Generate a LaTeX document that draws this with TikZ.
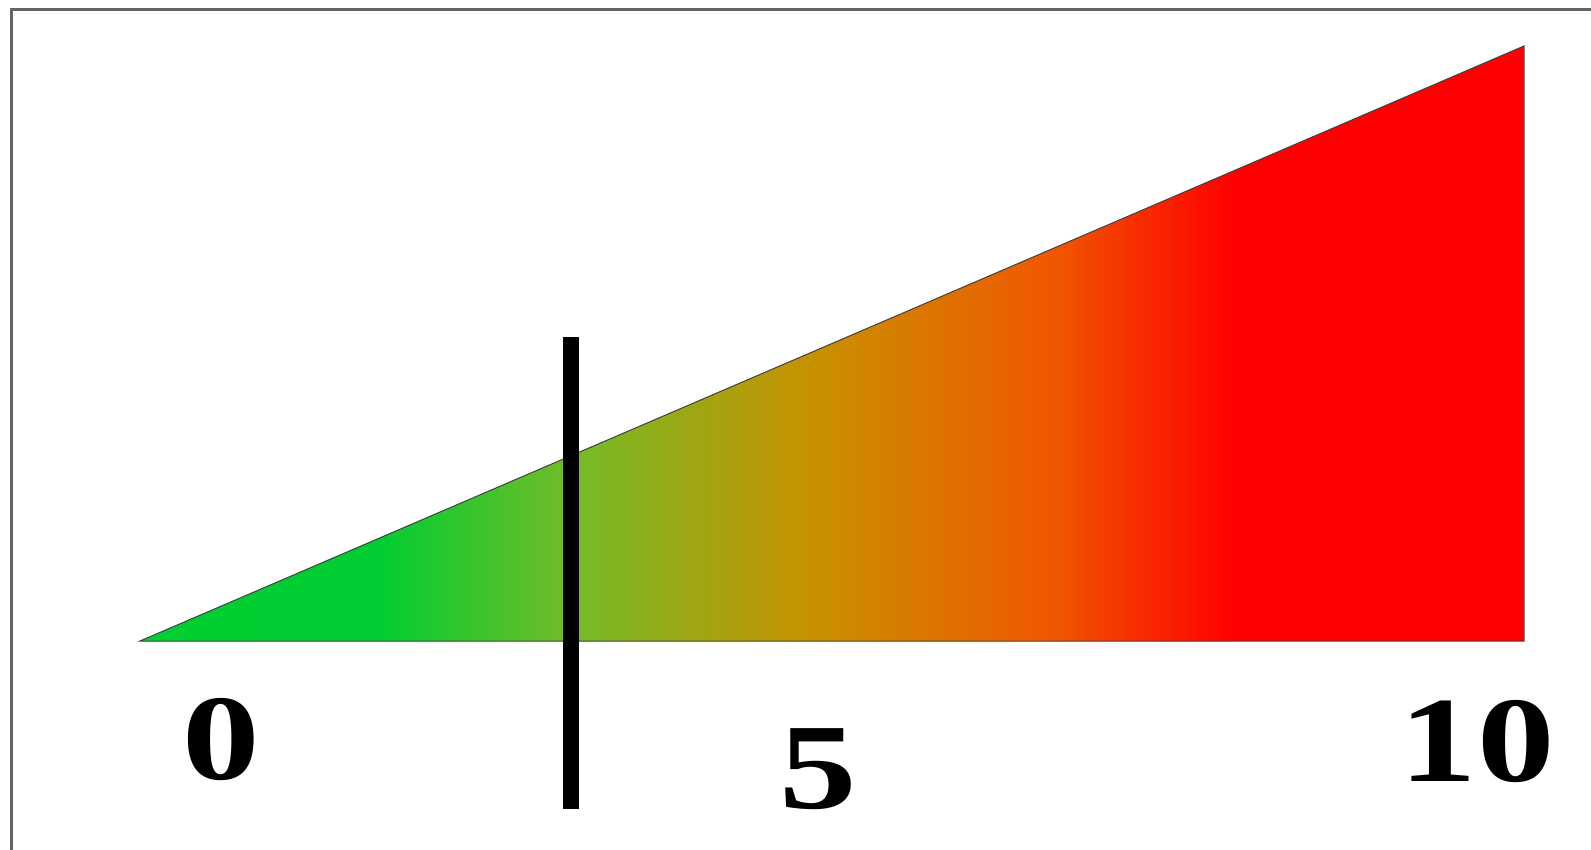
\documentclass[tikz,border=0pt]{standalone}
\usepackage{fontspec}
\setmainfont{Liberation Serif}
\definecolor{gA}{RGB}{0,208,50}
\definecolor{gB}{RGB}{0,205,50}
\definecolor{gC}{RGB}{115,188,40}
\definecolor{gD}{RGB}{200,145,0}
\definecolor{gE}{RGB}{240,88,0}
\definecolor{gF}{RGB}{255,0,0}
\definecolor{frame}{RGB}{100,100,100}
\pgfdeclarehorizontalshading{ramp}{100bp}{color(0bp)=(gA); color(25bp)=(gA); color(33.6bp)=(gB); color(40.5bp)=(gC); color(49.3bp)=(gD); color(57.9bp)=(gE); color(64.5bp)=(gF); color(75bp)=(gF); color(100bp)=(gF)}
\newcommand{\widenum}[1]{\scalebox{1.27}[1]{#1}}
\tikzset{
  num/.style={font=\fontsize{122}{122}\selectfont\bfseries, inner sep=0pt, anchor=center},
  wedge/.style={shading=ramp, draw=black!75, line width=1pt, line join=miter},
  marker/.style={line width=16pt, line cap=butt, draw=black},
  frameline/.style={draw=frame, line width=3pt}
}
\begin{document}
\begin{tikzpicture}[x=1pt,y=-1pt]
\useasboundingbox (0,0) rectangle (1591,850);
\fill[white] (0,0) rectangle (1591,850);
\draw[frameline] (11,870) -- (11,10) -- (1610,10);
\coordinate (L) at (140,641);
\coordinate (R) at (1524,641);
\coordinate (A) at (1524,46);
\path[wedge] (L) -- (R) -- (A) -- cycle;
\coordinate (mt) at (571,337);
\coordinate (mb) at (571,809);
\draw[marker] (mt) -- (mb);
\node[num] (n0) at (221,740) {\widenum{0}};
\node[num] (n5) at (818,769) {\widenum{5}};
\node[num] (n10) at (1477,742) {\widenum{10}};
\end{tikzpicture}
\end{document}
